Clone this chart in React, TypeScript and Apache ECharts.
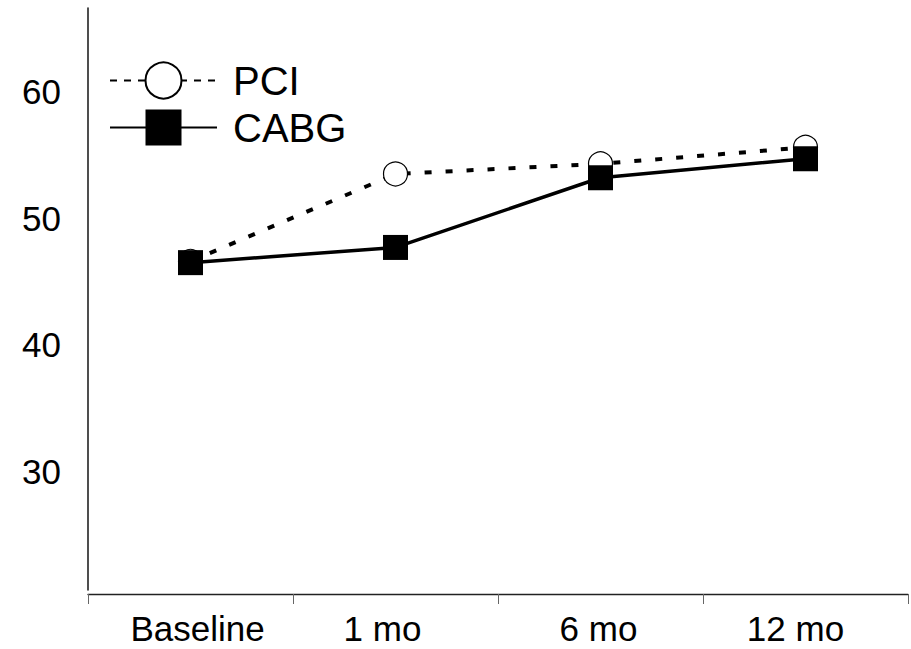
import React, { useEffect, useRef } from "react";
import * as echarts from "echarts";

const categories = ["Baseline", "1 mo", "6 mo", "12 mo"];
const pciValues = [46.6, 53.5, 54.3, 55.6];
const cabgValues = [46.5, 47.7, 53.2, 54.7];
const yTickLabels = [30, 40, 50, 60];

// horizontal nudges (px) of the category labels, as placed in the original
const labelShift = [7, -13, -2, -10];

const FONT = "'Liberation Sans', Arial, sans-serif";

export default function App() {
  const ref = useRef<HTMLDivElement>(null);

  useEffect(() => {
    if (!ref.current) return;
    const chart = echarts.init(ref.current, undefined, { renderer: "svg" });

    const xData = categories.map((c, i) => {
      const s = labelShift[i];
      return {
        value: c,
        textStyle: { padding: s > 0 ? [0, 0, 0, 2 * s] : [0, -2 * s, 0, 0] },
      };
    });

    chart.setOption({
      animation: false,
      backgroundColor: "#fff",
      textStyle: { fontFamily: FONT },
      grid: { left: 88, right: 3, top: 8, bottom: 59, containLabel: false },
      legend: {
        orient: "vertical",
        left: 109,
        top: 60.5,
        padding: 0,
        itemWidth: 107,
        itemHeight: 45,
        itemGap: 7,
        textStyle: { fontSize: 40, color: "#000", fontFamily: FONT, padding: [0, 0, 0, 11] },
        data: [
          {
            name: "PCI",
            lineStyle: { width: 2, type: [7, 7] },
            itemStyle: { borderWidth: 2 },
          },
          {
            name: "CABG",
            lineStyle: { width: 2, type: "solid" },
          },
        ],
      },
      xAxis: {
        type: "category",
        data: xData,
        boundaryGap: true,
        offset: 4,
        axisLine: { show: true, lineStyle: { color: "#222", width: 1.3 } },
        axisTick: { show: true, length: 10, inside: false, lineStyle: { color: "#666", width: 1 } },
        axisLabel: { fontSize: 35, color: "#000", fontFamily: FONT, margin: 17 },
        splitLine: { show: false },
      },
      yAxis: {
        type: "value",
        min: 20.66,
        max: 66.6,
        splitNumber: 5,
        axisLine: { show: true, lineStyle: { color: "#222", width: 1.6 } },
        axisTick: { show: false },
        splitLine: { show: false },
        axisLabel: {
          fontSize: 35,
          color: "#000",
          fontFamily: FONT,
          margin: 27,
          showMinLabel: false,
          showMaxLabel: false,
          formatter: (v: number) => (yTickLabels.includes(Math.round(v * 1000) / 1000) ? String(v) : ""),
        },
      },
      series: [
        {
          name: "PCI",
          type: "line",
          data: pciValues,
          symbol: "circle",
          symbolSize: 24,
          z: 2,
          itemStyle: { color: "#fff", borderColor: "#000", borderWidth: 1.2 },
          lineStyle: { color: "#000", width: 4, type: [7, 14] },
        },
        {
          name: "CABG",
          type: "line",
          data: cabgValues,
          symbol: "rect",
          symbolSize: 25,
          z: 3,
          itemStyle: { color: "#000", borderColor: "#000", borderWidth: 0 },
          lineStyle: { color: "#000", width: 3.5, type: "solid" },
        },
      ],
    });

    return () => chart.dispose();
  }, []);

  return (
    <div
      ref={ref}
      style={{ position: "fixed", left: 0, top: 0, width: 911, height: 649, background: "#fff" }}
    />
  );
}
